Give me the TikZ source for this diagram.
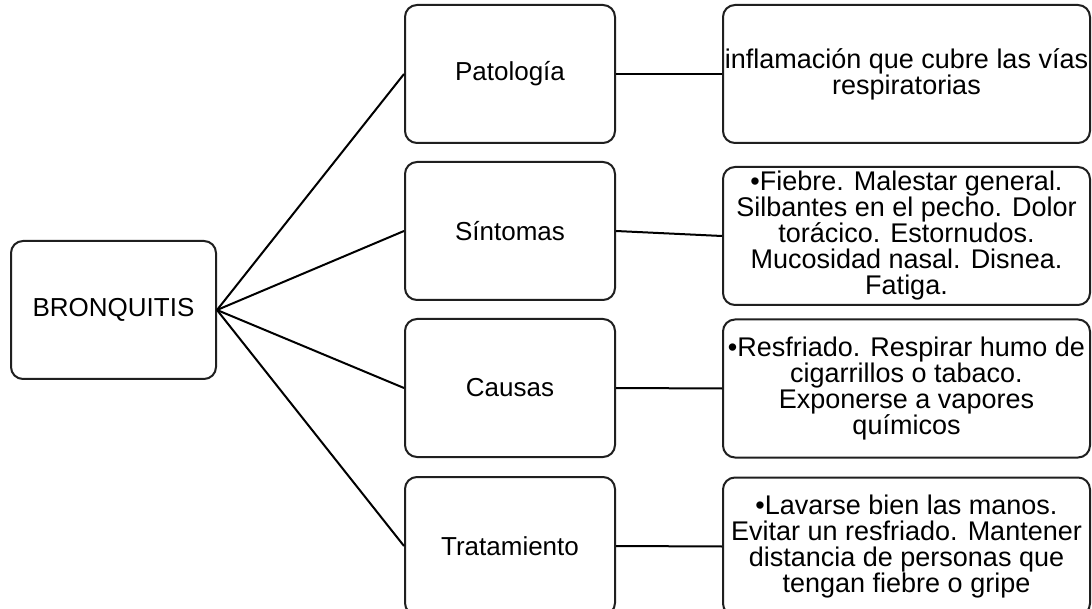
\documentclass[tikz,border=0pt]{standalone}
\usepackage{fontspec}
\setmainfont{Liberation Sans}
\begin{document}
\begin{tikzpicture}[x=1pt,y=-1pt,
  box/.style={draw=black!88, line width=2pt, rounded corners=12pt, minimum height=138pt,
    inner sep=0pt, align=center, font=\fontsize{26}{28}\selectfont},
  leftbox/.style={box, minimum width=205pt},
  midbox/.style={box, minimum width=210pt},
  rightbox/.style={box, minimum width=367pt, font=\fontsize{27}{26}\selectfont},
  link/.style={draw=black, line width=2pt}]
\clip (0,0) rectangle (1092,609);
\fill[white] (0,0) rectangle (1092,609);

\node[leftbox] (bron) at (113.5,310) {BRONQUITIS};

\node[midbox] (pat) at (510,74) {Patología};
\node[midbox] (sin) at (510,231) {Síntomas};
\node[midbox] (cau) at (510,388) {Causas};
\node[midbox] (tra) at (510,546) {Tratamiento};

\node[rightbox] (rpat) at (906.5,74) {inflamación que cubre las vías\\respiratorias};
\node[rightbox] (rsin) at (906.5,236) {•Fiebre. Malestar general.\\Silbantes en el pecho. Dolor\\torácico. Estornudos.\\Mucosidad nasal. Disnea.\\Fatiga.};
\node[rightbox] (rcau) at (906.5,388.5) {•Resfriado. Respirar humo de\\cigarrillos o tabaco.\\Exponerse a vapores\\químicos};
\node[rightbox] (rtra) at (906.5,546.5) {•Lavarse bien las manos.\\Evitar un resfriado. Mantener\\distancia de personas que\\tengan fiebre o gripe};

\foreach \m in {pat,sin,cau,tra} {
  \draw[link] (bron.east) -- (\m.west);
}
\draw[link] (pat.east) -- (rpat.west);
\draw[link] (sin.east) -- (rsin.west);
\draw[link] (cau.east) -- (rcau.west);
\draw[link] (tra.east) -- (rtra.west);
\end{tikzpicture}
\end{document}
